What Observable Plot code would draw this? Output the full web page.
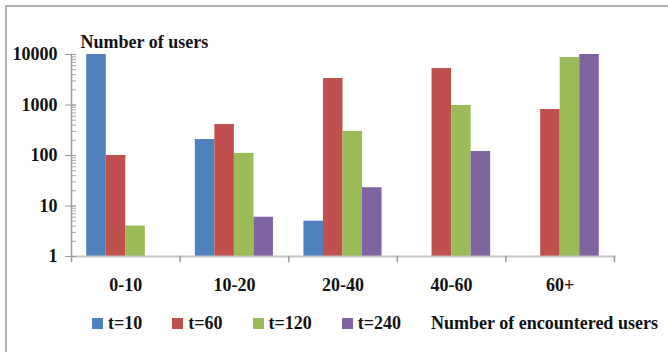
<!DOCTYPE html>
<html>
<head>
<meta charset="utf-8">
<script src="https://cdn.jsdelivr.net/npm/d3@7"></script>
<script src="https://cdn.jsdelivr.net/npm/@observablehq/plot@0.6"></script>
<style>
  html, body { margin: 0; padding: 0; background: #fff; overflow: hidden; }
  body { width: 668px; height: 352px; position: relative;
         font-family: "Liberation Serif", "Times New Roman", serif; font-weight: bold; color: #111; }
  #border { position: absolute; left: 5px; top: 5px; width: 700px; height: 400px;
            border-left: 2px solid #b4b4b4; border-top: 2px solid #b4b4b4; }
  #chart { position: absolute; left: 0; top: 0; }
  #legendRow { position: absolute; left: 92px; top: 312px; height: 23px;
               display: flex; align-items: center; font-size: 18px; white-space: nowrap; }
  #legendRow .lg-swatches, #legendRow .lg-swatches-wrap { margin: 0 !important; min-height: 0 !important;
               display: flex; align-items: center; font: bold 18px "Liberation Serif", serif !important; color: #111; }
  #legendRow .lg-swatch { margin-right: 30px !important; display: inline-flex; align-items: center; }
  #legendRow .lg-swatch > svg { margin-right: 5px !important; }
</style>
</head>
<body>
<div id="border"></div>
<div id="chart"></div>
<div id="legendRow"></div>
<script>
// Categories of encountered users and the four time windows
const categories = ["0-10", "10-20", "20-40", "40-60", "60+"];
const series = ["t=10", "t=60", "t=120", "t=240"];
const colors = ["#4F81BD", "#C0504D", "#9BBB59", "#8064A2"];

// Number of users per category for each window (null = no users)
const t10  = [10000, 207, 5, null, null];
const t60  = [100, 411, 3350, 5280, 815];
const t120 = [4, 110, 300, 977, 8720];
const t240 = [null, 6, 23, 120, 10000];

const majorTicks = [1, 10, 100, 1000, 10000];
const yTitle = "Number of users";
const xTitle = "Number of encountered users";

const valuesBySeries = [t10, t60, t120, t240];
const rows = [];
series.forEach((s, si) => {
  categories.forEach((c, ci) => {
    const v = valuesBySeries[si][ci];
    if (v != null && v > 0) rows.push({cat: c, series: s, value: v});
  });
});

const W = 668, H = 300, mt = 54, mb = 44, ml = 71, mr = 54;
const plotH = H - mt - mb;
const minorTicks = d3.scaleLog().domain([1, 10000]).ticks();

const chart = Plot.plot({
  width: W,
  height: H,
  marginTop: mt,
  marginBottom: mb,
  marginLeft: ml,
  marginRight: mr,
  style: {fontFamily: "'Liberation Serif', 'Times New Roman', serif", fontSize: "18px", fontWeight: "bold", color: "#111", background: "transparent", overflow: "visible"},
  fx: {domain: categories, padding: 0, round: false},
  x: {domain: series, paddingInner: 0, paddingOuter: 0.78, round: false, axis: null},
  y: {type: "log", domain: [1, 10000]},
  color: {domain: series, range: colors},
  marks: [
    Plot.barY(rows, {fx: "cat", x: "series", y1: 1, y2: "value", fill: "series"}),
    // axis lines
    Plot.frame({anchor: "left", facet: "super", stroke: "#9a9a9a", strokeWidth: 1.5, insetBottom: -5}),
    Plot.frame({anchor: "bottom", facet: "super", stroke: "#c4c4c4", strokeWidth: 2}),
    // tick marks between categories
    Plot.frame({anchor: "right", insetTop: plotH, insetBottom: -5, stroke: "#9a9a9a", strokeWidth: 1.5}),
    // minor and major y ticks
    Plot.axisY({ticks: minorTicks, tickSize: 5, dx: 5, tickFormat: () => "", stroke: "#a8a8a8", label: null}),
    Plot.axisY({ticks: majorTicks, tickSize: 11, dx: 5, tickPadding: 8, tickFormat: d3.format("d"), stroke: "#9a9a9a", label: null}),
    Plot.axisFx({anchor: "bottom", tickSize: 0, tickPadding: 22, label: null}),
    Plot.text([yTitle], {frameAnchor: "top-left", facet: "super", dx: 9, dy: -19, textAnchor: "start"})
  ]
});
document.getElementById("chart").appendChild(chart);

const row = document.getElementById("legendRow");
row.appendChild(chart.legend("color", {swatchSize: 11, className: "lg"}));
const xt = document.createElement("span");
xt.textContent = xTitle;
row.appendChild(xt);
</script>
</body>
</html>
